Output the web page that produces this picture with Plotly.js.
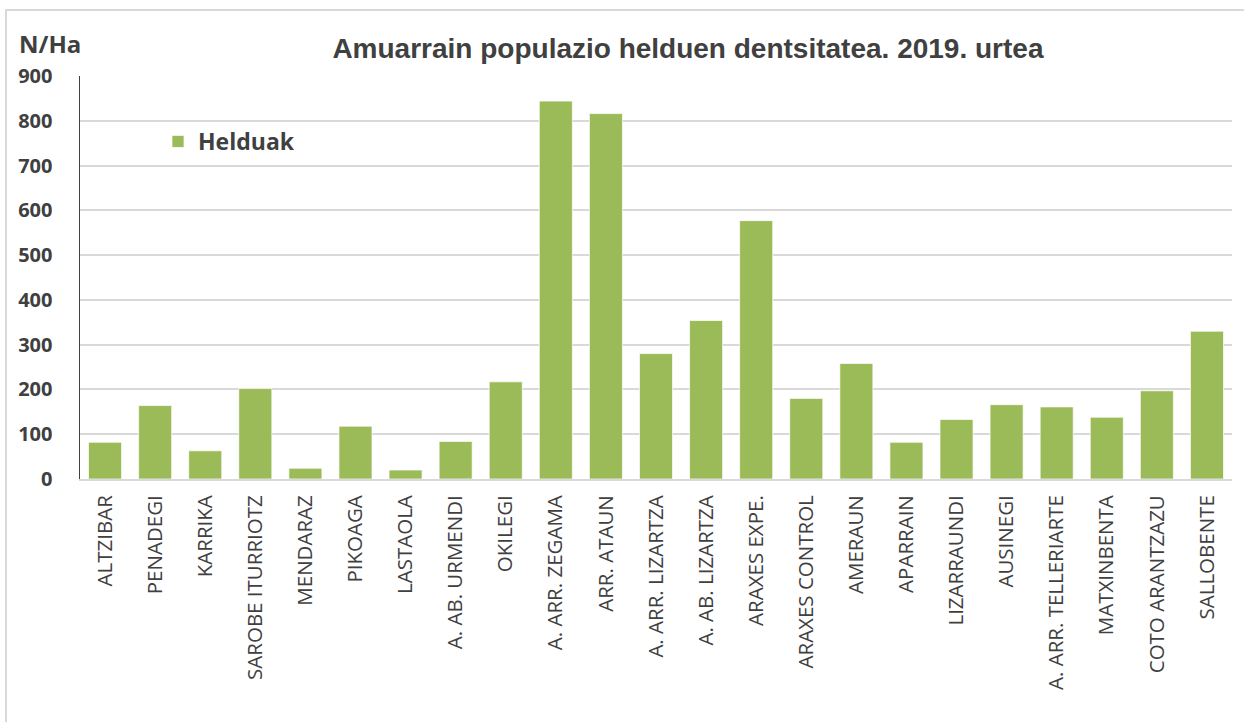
<!DOCTYPE html>
<html>
<head>
<meta charset="utf-8">
<script src="https://cdn.plot.ly/plotly-3.0.1.min.js"></script>
<style>
  html, body { margin: 0; padding: 0; background: #ffffff; }
  #chart { width: 1244px; height: 722px; }
</style>
</head>
<body>
<div id="chart"></div>
<script>
const categories = [
  "ALTZIBAR", "PENADEGI", "KARRIKA", "SAROBE ITURRIOTZ", "MENDARAZ", "PIKOAGA",
  "LASTAOLA", "A. AB. URMENDI", "OKILEGI", "A. ARR. ZEGAMA", "ARR. ATAUN",
  "A. ARR. LIZARTZA", "A. AB. LIZARTZA", "ARAXES EXPE.", "ARAXES CONTROL",
  "AMERAUN", "APARRAIN", "LIZARRAUNDI", "AUSINEGI", "A. ARR. TELLERIARTE",
  "MATXINBENTA", "COTO ARANTZAZU", "SALLOBENTE"
];
const helduak = [82, 164, 63, 202, 24, 118, 20, 84, 217, 844, 816, 280, 354, 577, 180, 258, 82, 133, 166, 161, 138, 197, 330];
const seriesName = "Helduak";
const yTicks = [0, 100, 200, 300, 400, 500, 600, 700, 800, 900];
const titleText = "Amuarrain populazio helduen dentsitatea. 2019. urtea";
const yUnit = "N/Ha";

const trace = {
  type: "bar",
  x: categories,
  y: helduak,
  name: seriesName,
  marker: { color: "#9BBB59", line: { color: "rgba(255,255,255,0.7)", width: 1 } },
  showlegend: true,
  hoverinfo: "x+y"
};

const layout = {
  width: 1244,
  height: 722,
  margin: { l: 80, r: 12, t: 76, b: 243, pad: 0 },
  paper_bgcolor: "#ffffff",
  plot_bgcolor: "#ffffff",
  bargap: 0.34,
  title: {
    text: titleText,
    font: { family: "Liberation Sans, Arial, sans-serif", size: 28, color: "#404040", weight: "bold" },
    x: 0.553, xref: "container", xanchor: "center",
    y: 1 - 48 / 722, yref: "container", yanchor: "middle"
  },
  xaxis: {
    type: "category",
    tickangle: -90,
    tickfont: { family: "Open Sans, sans-serif", size: 20.5, color: "#404040" },
    ticks: "outside", ticklen: 6, tickcolor: "rgba(0,0,0,0)",
    showline: true, linecolor: "#d9d9d9", linewidth: 2,
    showgrid: false,
    fixedrange: true
  },
  yaxis: {
    range: [0, 900],
    tickvals: yTicks,
    ticktext: yTicks.map(String),
    tickfont: { family: "Open Sans, sans-serif", size: 20, color: "#404040", weight: "bold" },
    ticks: "outside", ticklen: 22, tickcolor: "rgba(0,0,0,0)",
    showgrid: true, gridcolor: "#d9d9d9", gridwidth: 2,
    zeroline: false,
    showline: true, linecolor: "#404040", linewidth: 1.5,
    fixedrange: true
  },
  legend: {
    x: (158 - 80) / 1152, xanchor: "left",
    y: (479 - 120) / 403, yanchor: "top",
    bgcolor: "rgba(0,0,0,0)",
    font: { family: "Open Sans, sans-serif", size: 23, color: "#404040", weight: "bold" }
  },
  annotations: [
    {
      text: yUnit,
      xref: "paper", yref: "paper",
      x: (50 - 80) / 1152, y: (479 - 44) / 403,
      xanchor: "center", yanchor: "middle",
      showarrow: false,
      font: { family: "Open Sans, sans-serif", size: 24, color: "#404040", weight: "bold" }
    }
  ],
  shapes: [
    {
      type: "rect", xref: "paper", yref: "paper",
      x0: (6 - 80) / 1152, x1: 1.05,
      y0: -0.7, y1: (479 - 10) / 403,
      line: { color: "#d9d9d9", width: 2 },
      fillcolor: "rgba(0,0,0,0)",
      layer: "below"
    }
  ]
};

Plotly.newPlot("chart", [trace], layout, { displayModeBar: false, staticPlot: true });
</script>
</body>
</html>
